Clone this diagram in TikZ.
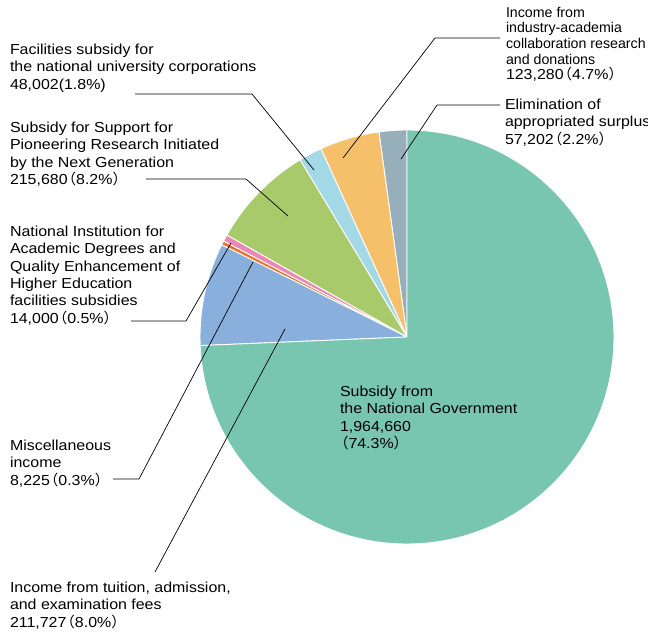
\documentclass[tikz,border=0pt]{standalone}
\usepackage{fontspec}
\setmainfont{Liberation Sans}[FakeStretch=1.1]
\newfontfamily\narrowfont{Liberation Sans}
\newfontfamily\cjk{Noto Sans CJK JP}
\newcommand{\jlp}{{\cjk\kern-6pt（}}
\newcommand{\jrp}{{\cjk ）}}
\definecolor{cGov}{RGB}{121,198,176}
\definecolor{cTui}{RGB}{137,176,220}
\definecolor{cMisc}{RGB}{238,111,36}
\definecolor{cNiad}{RGB}{234,136,184}
\definecolor{cPio}{RGB}{168,202,106}
\definecolor{cFac}{RGB}{163,216,230}
\definecolor{cInd}{RGB}{246,191,106}
\definecolor{cElim}{RGB}{151,174,187}
\tikzset{
  lbl/.style={anchor=north west, inner sep=0pt, outer sep=0pt, align=left,
    font=\fontsize{14.5}{17.3}\selectfont},
  leader/.style={draw=black, line width=0.7pt},
  slice/.style={draw=white, line width=0.9pt, line join=round}
}
\begin{document}
\begin{tikzpicture}[x=1pt,y=-1pt]
\useasboundingbox (0,0) rectangle (648,634);
\coordinate (O) at (407,337);
\foreach \s/\e/\c in {90/97.79/cElim, 97.79/114.58/cInd, 114.58/121.12/cFac,
  121.12/150.50/cPio, 150.50/152.41/cNiad, 152.41/153.53/cMisc,
  153.53/182.37/cTui, 182.37/450/cGov}
  \filldraw[slice, fill=\c] (O) -- ++(-\s:207) arc[start angle=-\s, end angle=-\e, radius=207] -- cycle;

% labels
\node[lbl, font=\narrowfont\fontsize{14.2}{15.6}\selectfont] (ind) at (506,7) {Income from\\industry-academia\\collaboration research\\and donations\\\rmfamily\fontsize{14.5}{15.6}\selectfont 123,280\jlp4.7\%\jrp};
\node[lbl] (elim) at (505,99) {Elimination of\\appropriated surplus\\57,202\jlp2.2\%\jrp};
\node[lbl] (fac) at (10,44) {Facilities subsidy for\\the national university corporations\\48,002(1.8\%)};
\node[lbl] (pio) at (10,122) {Subsidy for Support for\\Pioneering Research Initiated\\by the Next Generation\\215,680\jlp8.2\%\jrp};
\node[lbl] (niad) at (10,226) {National Institution for\\Academic Degrees and\\Quality Enhancement of\\Higher Education\\facilities subsidies\\14,000\jlp0.5\%\jrp};
\node[lbl] (misc) at (10,440) {Miscellaneous\\income\\8,225\jlp0.3\%\jrp};
\node[lbl] (tui) at (10,582) {Income from tuition, admission,\\and examination fees\\211,727\jlp8.0\%\jrp};
\node[lbl] (gov) at (340,386) {Subsidy from\\the National Government\\1,964,660\\\jlp74.3\%\jrp};

% leader coordinates
\coordinate (indA) at (500,38);  \coordinate (indB) at (435,38);  \coordinate (indC) at (343,158);
\coordinate (elimA) at (500,105); \coordinate (elimB) at (437,105); \coordinate (elimC) at (401,159);
\coordinate (facA) at (135,94);  \coordinate (facB) at (252,94);  \coordinate (facC) at (314,170);
\coordinate (pioA) at (146,179); \coordinate (pioB) at (246,179); \coordinate (pioC) at (288,216);
\coordinate (niadA) at (131,321); \coordinate (niadB) at (186,321); \coordinate (niadC) at (231,243);
\coordinate (miscA) at (113,479); \coordinate (miscB) at (139,479); \coordinate (miscC) at (253,262);
\coordinate (tuiA) at (155,572); \coordinate (tuiC) at (285,329);

\draw[leader] (indA) -- (indB) -- (indC);
\draw[leader] (elimA) -- (elimB) -- (elimC);
\draw[leader] (facA) -- (facB) -- (facC);
\draw[leader] (pioA) -- (pioB) -- (pioC);
\draw[leader] (niadA) -- (niadB) -- (niadC);
\draw[leader] (miscA) -- (miscB) -- (miscC);
\draw[leader] (tuiA) -- (tuiC);
\end{tikzpicture}
\end{document}
